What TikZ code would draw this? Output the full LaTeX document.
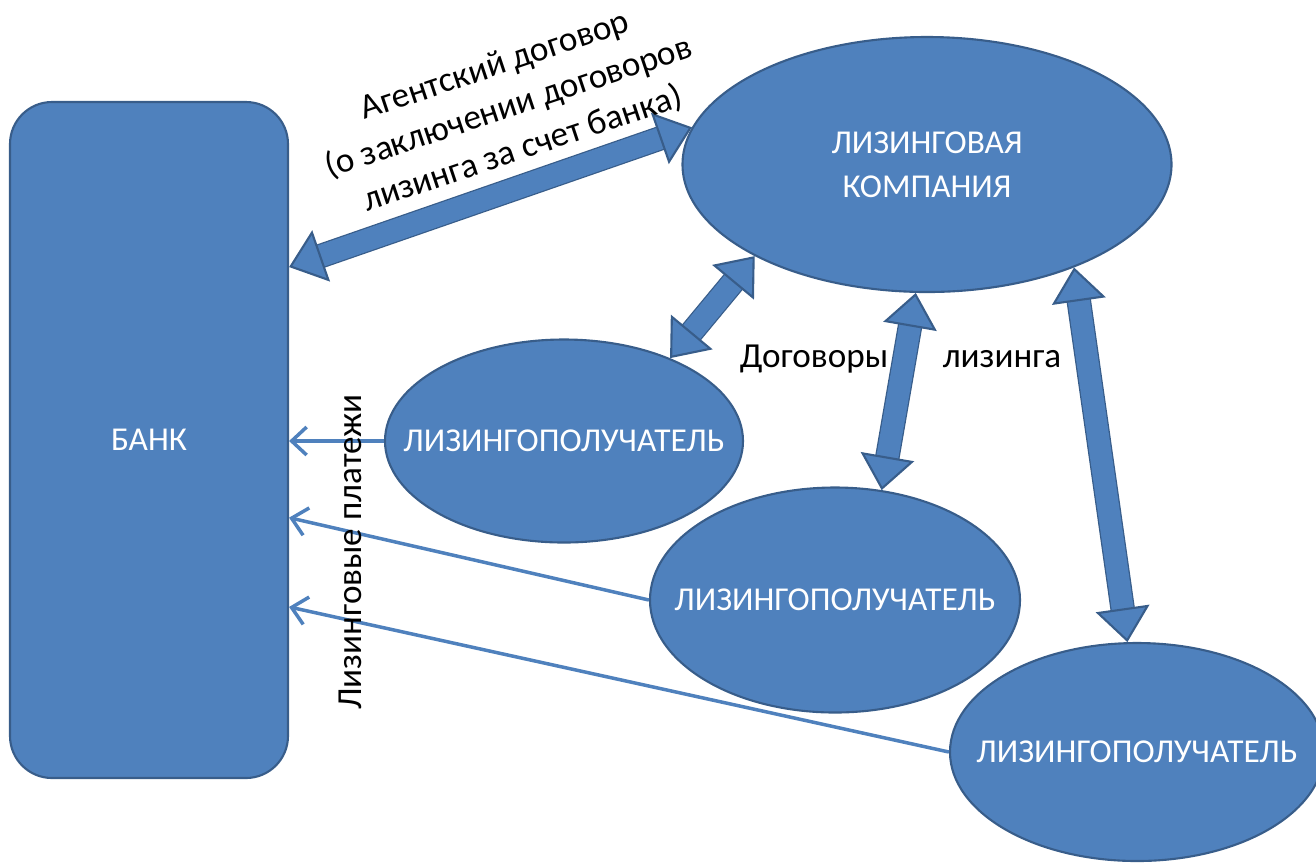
\documentclass[tikz,border=0pt]{standalone}
\usepackage{fontspec}
\setmainfont{Carlito}
\usetikzlibrary{shapes.geometric, arrows.meta}
\definecolor{fillblue}{HTML}{4F81BD}
\definecolor{edgeblue}{HTML}{385D8A}
\tikzset{
    bankbox/.style={rectangle, draw=edgeblue, fill=fillblue, line width=0.6pt, rounded corners=0.42cm, minimum width=2.78cm, minimum height=6.76cm, text=white, font=\fontsize{9.5}{12.5}\selectfont},
    oval/.style={ellipse, draw=edgeblue, fill=fillblue, line width=0.6pt, inner sep=0pt, align=center, text=white, font=\fontsize{9.5}{12.5}\selectfont},
    whitetext/.style={text=white, font=\fontsize{9.5}{12.5}\selectfont},
    txt/.style={text=black, font=\fontsize{10}{12.5}\selectfont},
    bigarrow/.style={line width=0.22cm, draw=fillblue,
        {Triangle[width=0.54cm, length=0.34cm, fill=fillblue, color=edgeblue, line width=0.6pt]}-{Triangle[width=0.54cm, length=0.34cm, fill=fillblue, color=edgeblue, line width=0.6pt]},
        preaction={draw=edgeblue, line width=0.245cm, arrows=-, shorten <=0.32cm, shorten >=0.32cm}},
    payline/.style={draw=fillblue, line width=0.035cm, -{Straight Barb[length=0.15cm, width=0.28cm, line width=0.035cm]}}
}

\begin{document}
\begin{tikzpicture}
    \useasboundingbox (0,0) rectangle (13.16,-8.62);

    % Bank (left)
    \node[bankbox] (bank) at (1.49,-4.40) {БАНК};

    % Leasing company (top right)
    \node[oval, minimum width=4.89cm, minimum height=2.55cm] (company) at (9.27,-1.645) {ЛИЗИНГОВАЯ\\КОМПАНИЯ};

    % Lessees
    \node[oval, minimum width=3.58cm, minimum height=2.03cm, label={[whitetext]center:ЛИЗИНГОПОЛУЧАТЕЛЬ}] (lessee1) at (5.64,-4.41) {};
    \node[oval, minimum width=3.70cm, minimum height=2.25cm, label={[whitetext]center:ЛИЗИНГОПОЛУЧАТЕЛЬ}] (lessee2) at (8.35,-6.00) {};
    \node[oval, minimum width=3.74cm, minimum height=2.18cm, label={[whitetext]center:ЛИЗИНГОПОЛУЧАТЕЛЬ}] (lessee3) at (11.37,-7.52) {};

    % Contracts
    \draw[bigarrow] (bank.51.6) -- (company.171.5);
    \draw[bigarrow] (company.208.9) -- (lessee1.38);
    \draw[bigarrow] (company.265) -- (lessee2.67);
    \draw[bigarrow] (company.-35) -- (lessee3.95);

    % Payments
    \draw[payline] (lessee1.west) -- (lessee1.west -| bank.east);
    \draw[payline] (lessee2.west) -- (bank.-29.6);
    \draw[payline] (lessee3.west) -- (bank.-50.7);

    % Texts
    \node[txt, rotate=18.5, align=center] (agent) at (5.09,-1.08) {Агентский договор\\(о заключении договоров\\лизинга за счет банка)};
    \node[txt, anchor=base] (contracts) at (8.14,-3.67) {Договоры};
    \node[txt, anchor=base] (leasing) at (10.02,-3.67) {лизинга};
    \node[txt, rotate=90] (payments) at (3.50,-5.52) {Лизинговые платежи};
\end{tikzpicture}
\end{document}
